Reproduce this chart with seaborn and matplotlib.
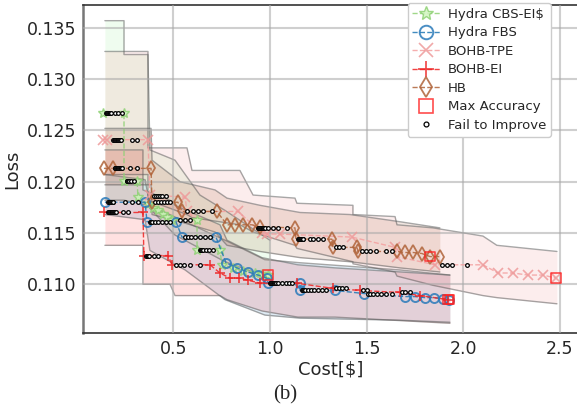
import matplotlib
matplotlib.use('Agg')
import matplotlib.pyplot as plt
from matplotlib.lines import Line2D
import seaborn as sns

# Best-so-far loss per method (points that carry a marker).
cbs_x = [0.135, 0.244, 0.244, 0.312, 0.316, 0.368, 0.394, 0.420, 0.446, 0.466, 0.492, 0.622, 0.622, 0.741,
         0.751, 0.808, 0.860, 0.922, 0.958, 0.989]
cbs_y = [0.1267, 0.1267, 0.1201, 0.1201, 0.1185, 0.1178, 0.1174, 0.1172, 0.1169, 0.1166, 0.1163, 0.1163, 0.1133,
         0.1133, 0.1119, 0.1116, 0.1113, 0.1111, 0.1110, 0.1109]

fbs_x = [0.145, 0.353, 0.363, 0.513, 0.544, 0.720, 0.772, 0.829, 0.886, 0.937, 0.984, 0.989, 1.155, 1.155,
         1.336, 1.486, 1.698, 1.750, 1.802, 1.848, 1.895, 1.926]
fbs_y = [0.1180, 0.1180, 0.1161, 0.1161, 0.1146, 0.1146, 0.1121, 0.1116, 0.1112, 0.1109, 0.1106, 0.1101, 0.1101,
         0.1094, 0.1094, 0.1091, 0.1088, 0.1088, 0.1087, 0.1087, 0.1086, 0.1085]

tpe_x = [0.135, 0.155, 0.368, 0.378, 0.560, 0.570, 0.834, 0.958, 0.984, 1.051, 1.424, 1.647, 1.657, 1.854, 2.102,
         2.180, 2.257, 2.335, 2.413, 2.480]
tpe_y = [0.1241, 0.1241, 0.1241, 0.1187, 0.1185, 0.1171, 0.1171, 0.1150, 0.1149, 0.1149, 0.1146, 0.1136, 0.1127,
         0.1119, 0.1119, 0.1111, 0.1111, 0.1109, 0.1109, 0.1106]

ei_x = [0.140, 0.342, 0.347, 0.472, 0.492, 0.689, 0.741, 0.792, 0.839, 0.886, 0.948, 1.139, 1.326, 1.465,
        1.672, 1.776, 1.921]
ei_y = [0.1170, 0.1170, 0.1128, 0.1128, 0.1119, 0.1119, 0.1111, 0.1106, 0.1106, 0.1104, 0.1101, 0.1101, 0.1096,
        0.1094, 0.1092, 0.1089, 0.1085]

hb_x = [0.140, 0.187, 0.384, 0.389, 0.523, 0.544, 0.725, 0.777, 0.818, 0.860, 0.906, 0.948, 1.129, 1.134,
        1.320, 1.326, 1.450, 1.455, 1.657, 1.698, 1.740, 1.786, 1.828, 1.879]
hb_y = [0.1213, 0.1213, 0.1213, 0.1180, 0.1180, 0.1171, 0.1171, 0.1158, 0.1158, 0.1158, 0.1158, 0.1156, 0.1155,
        0.1144, 0.1144, 0.1136, 0.1136, 0.1132, 0.1132, 0.1131, 0.1131, 0.1130, 0.1127, 0.1127]

# Min / max envelope over runs.
cbs_band_x = [0.145, 0.244, 0.244, 0.368, 0.378, 0.508, 0.637, 0.767, 0.999]
cbs_band_lo = [0.1182, 0.1182, 0.1182, 0.1177, 0.1174, 0.1148, 0.1135, 0.1122, 0.1106]
cbs_band_hi = [0.1357, 0.1357, 0.1324, 0.1324, 0.1231, 0.1221, 0.1187, 0.1172, 0.1143]

fbs_band_x = [0.145, 0.353, 0.378, 0.560, 0.767, 0.973, 1.155, 1.672, 1.931]
fbs_band_lo = [0.1168, 0.1163, 0.1133, 0.1114, 0.1085, 0.1070, 0.1067, 0.1065, 0.1063]
fbs_band_hi = [0.1207, 0.1202, 0.1177, 0.1161, 0.1143, 0.1124, 0.1121, 0.1114, 0.1109]

tpe_band_x = [0.145, 0.368, 0.368, 0.570, 0.596, 0.844, 0.912, 1.129, 1.139, 1.429, 1.429, 1.647, 1.657, 1.843,
              2.102, 2.174, 2.485]
tpe_band_lo = [0.1207, 0.1207, 0.1182, 0.1168, 0.1165, 0.1158, 0.1151, 0.1138, 0.1135, 0.1122, 0.1120, 0.1112,
               0.1108, 0.1099, 0.1089, 0.1087, 0.1081]
tpe_band_hi = [0.1327, 0.1327, 0.1233, 0.1233, 0.1211, 0.1211, 0.1187, 0.1184, 0.1179, 0.1177, 0.1168, 0.1166,
               0.1158, 0.1155, 0.1147, 0.1138, 0.1132]

ei_band_x = [0.145, 0.342, 0.342, 0.482, 0.508, 0.741, 0.777, 0.958, 1.144, 1.336, 1.931]
ei_band_lo = [0.1138, 0.1138, 0.1100, 0.1100, 0.1089, 0.1089, 0.1085, 0.1074, 0.1068, 0.1068, 0.1062]
ei_band_hi = [0.1231, 0.1231, 0.1192, 0.1182, 0.1177, 0.1158, 0.1143, 0.1126, 0.1119, 0.1116, 0.1109]

hb_band_x = [0.145, 0.384, 0.389, 0.534, 0.715, 0.777, 0.948, 1.155, 1.414, 1.672, 1.879]
hb_band_lo = [0.1197, 0.1197, 0.1168, 0.1161, 0.1151, 0.1138, 0.1132, 0.1126, 0.1122, 0.1116, 0.1112]
hb_band_hi = [0.1252, 0.1252, 0.1221, 0.1200, 0.1192, 0.1184, 0.1177, 0.1170, 0.1168, 0.1161, 0.1155]

# Trials that did not improve the best loss.
fail_x = ([0.150, 0.154, 0.158, 0.162, 0.166, 0.170, 0.174, 0.178, 0.195, 0.215, 0.234]
          + [0.258, 0.262, 0.266, 0.270, 0.282, 0.295] + [0.534, 0.560, 0.586]
          + [0.637, 0.641, 0.645, 0.649, 0.653, 0.668, 0.683, 0.704]
          + [0.161, 0.165, 0.169, 0.173, 0.177, 0.181, 0.185, 0.189, 0.249, 0.285, 0.316]
          + [0.378, 0.382, 0.386, 0.390, 0.404, 0.420, 0.440, 0.461, 0.482]
          + [0.560, 0.575, 0.591, 0.611, 0.637, 0.663, 0.689]
          + [0.999, 1.003, 1.007, 1.011, 1.015, 1.019, 1.023, 1.027, 1.031, 1.040, 1.060, 1.082, 1.098, 1.113]
          + [1.165, 1.169, 1.173, 1.177, 1.181, 1.196, 1.212, 1.227, 1.248, 1.268, 1.289]
          + [1.507, 1.517, 1.532, 1.553, 1.574, 1.600, 1.631]
          + [0.187, 0.191, 0.195, 0.199, 0.203, 0.207, 0.211, 0.215, 0.219, 0.223, 0.227, 0.285, 0.311]
          + [0.399, 0.409, 0.420, 0.430, 0.440, 0.461] + [1.890, 1.916, 1.942, 2.019]
          + [0.160, 0.164, 0.168, 0.172, 0.176, 0.180, 0.184, 0.188, 0.192, 0.196, 0.200, 0.238, 0.264]
          + [0.358, 0.362, 0.366, 0.370, 0.374, 0.399, 0.420] + [0.513, 0.534, 0.555, 0.586, 0.637]
          + [1.341, 1.357, 1.372, 1.393] + [1.481, 1.501] + [1.683, 1.698, 1.724]
          + [0.195, 0.199, 0.203, 0.207, 0.211, 0.215, 0.219, 0.223, 0.227, 0.231, 0.235, 0.275, 0.311]
          + [0.404, 0.420, 0.435, 0.451, 0.466, 0.482] + [0.570, 0.601, 0.627, 0.653, 0.699]
          + [0.937, 0.941, 0.945, 0.949, 0.953, 0.957, 0.961, 0.965, 0.969, 0.973, 0.990, 1.015, 1.041, 1.087]
          + [1.144, 1.148, 1.152, 1.156, 1.160, 1.164, 1.168, 1.172, 1.206, 1.222, 1.248, 1.274]
          + [1.341, 1.357, 1.377] + [1.476, 1.496, 1.517, 1.548, 1.600, 1.630])
fail_y = ([0.1267] * 11 + [0.1201] * 6 + [0.1163] * 3 + [0.1133] * 8
          + [0.1180] * 11 + [0.1161] * 9 + [0.1146] * 7 + [0.1101] * 14 + [0.1094] * 11 + [0.1091] * 7
          + [0.1241] * 13 + [0.1186] * 6 + [0.1119] * 4
          + [0.1170] * 13 + [0.1128] * 7 + [0.1119] * 5 + [0.1096] * 4 + [0.1094] * 2 + [0.1092] * 3
          + [0.1213] * 13 + [0.1180] * 6 + [0.1171] * 5 + [0.1155] * 14 + [0.1144] * 12 + [0.1136] * 3
          + [0.1132] * 6)

max_acc_x = [0.989, 1.921, 1.928, 2.480, 1.828]
max_acc_y = [0.1109, 0.1085, 0.1085, 0.1106, 0.1127]

sns.set_style('whitegrid')
plt.rcParams['font.family'] = ['DejaVu Sans']

fig = plt.figure(figsize=(5.77, 4.16), dpi=100)
ax = fig.add_axes([0.1438, 0.1995, 0.8596, 0.7885])

series = [
    ('Hydra CBS-EI$', cbs_x, cbs_y, cbs_band_x, cbs_band_lo, cbs_band_hi, '#8fd175', '#90ee90',
     dict(marker='*', markersize=7, markerfacecolor='#d2f5c0', markeredgecolor='#8fd175', markeredgewidth=1.0)),
    ('Hydra FBS', fbs_x, fbs_y, fbs_band_x, fbs_band_lo, fbs_band_hi, '#1f77b4', '#1f77b4',
     dict(marker='o', markersize=6.5, markerfacecolor='none', markeredgecolor='#2b7bba', markeredgewidth=1.4)),
    ('BOHB-TPE', tpe_x, tpe_y, tpe_band_x, tpe_band_lo, tpe_band_hi, '#f4a0a0', '#f08080',
     dict(marker='x', markersize=6.5, markerfacecolor='none', markeredgecolor='#ee9a9a', markeredgewidth=1.2)),
    ('BOHB-EI', ei_x, ei_y, ei_band_x, ei_band_lo, ei_band_hi, '#ee2222', '#ff3030',
     dict(marker='+', markersize=7.5, markerfacecolor='none', markeredgecolor='#ee2222', markeredgewidth=1.2)),
    ('HB', hb_x, hb_y, hb_band_x, hb_band_lo, hb_band_hi, '#b0643a', '#a0522d',
     dict(marker='d', markersize=7, markerfacecolor='none', markeredgecolor='#b0643a', markeredgewidth=1.3)),
]

handles = []
for name, xs, ys, bx, blo, bhi, col, fill_col, mk in series:
    ax.fill_between(bx, blo, bhi, color=fill_col, alpha=0.14, lw=0, zorder=1)
    ax.plot(bx, blo, color='#606060', alpha=0.55, lw=1, zorder=1.5)
    ax.plot(bx, bhi, color='#606060', alpha=0.55, lw=1, zorder=1.5)
    sns.lineplot(x=xs, y=ys, ax=ax, estimator=None, sort=False, color=col, linestyle='--', lw=1,
                 alpha=0.85, zorder=3, legend=False, **mk)
    leg_mk = dict(mk)
    leg_mk['markersize'] = mk['markersize'] * 1.5
    handles.append(Line2D([], [], color=col, linestyle='--', lw=1, alpha=0.85, **leg_mk))

sns.scatterplot(x=max_acc_x, y=max_acc_y, ax=ax, marker='s', s=45, facecolor='none', edgecolor='#ff2020',
                linewidth=1.2, alpha=0.8, zorder=5, legend=False)
sns.scatterplot(x=fail_x, y=fail_y, ax=ax, marker='o', s=7, facecolor='white', edgecolor='black',
                linewidth=0.9, zorder=4, legend=False)

handles.append(Line2D([], [], linestyle='none', marker='s', markersize=9.5, markerfacecolor='none',
                      markeredgecolor='#ff2020', markeredgewidth=1.2, alpha=0.8))
handles.append(Line2D([], [], linestyle='none', marker='o', markersize=3.5, markerfacecolor='white',
                      markeredgecolor='black', markeredgewidth=0.9))
labels = [s[0] for s in series] + ['Max Accuracy', 'Fail to Improve']

ax.set_xlim(0.0316, 2.599)
ax.set_ylim(0.10525, 0.13723)
ax.set_xticks([0.5, 1.0, 1.5, 2.0, 2.5])
ax.set_yticks([0.110, 0.115, 0.120, 0.125, 0.130, 0.135])
ax.set_yticklabels(['0.110', '0.115', '0.120', '0.125', '0.130', '0.135'])
ax.tick_params(labelsize=12.5, length=3, width=1, color='#333333', direction='out', pad=2)
ax.grid(True, color='#a8a8a8', alpha=0.55, lw=1.5)
ax.set_axisbelow(False)
for side, sp in ax.spines.items():
    sp.set_color('#333333')
    sp.set_linewidth(1.2)
ax.spines['left'].set_color('#777777')
ax.spines['left'].set_linewidth(1.8)

ax.set_xlabel('Cost[$]', fontsize=13, labelpad=2)
ax.set_ylabel('Loss', fontsize=13, labelpad=4)

leg = ax.legend(handles, labels, loc='upper right', bbox_to_anchor=(0.9435, 1.006), borderaxespad=0,
                fontsize=9.5, labelspacing=0.42, handlelength=2.1, numpoints=1, frameon=True,
                fancybox=True, framealpha=1.0, borderpad=0.35, handletextpad=0.6)
leg.get_frame().set_edgecolor('#cccccc')
leg.set_zorder(10)

fig.text(0.494, 0.05, '(b)', ha='center', va='center', fontsize=15, family='Liberation Serif')

fig.savefig('out.png', dpi=100)
